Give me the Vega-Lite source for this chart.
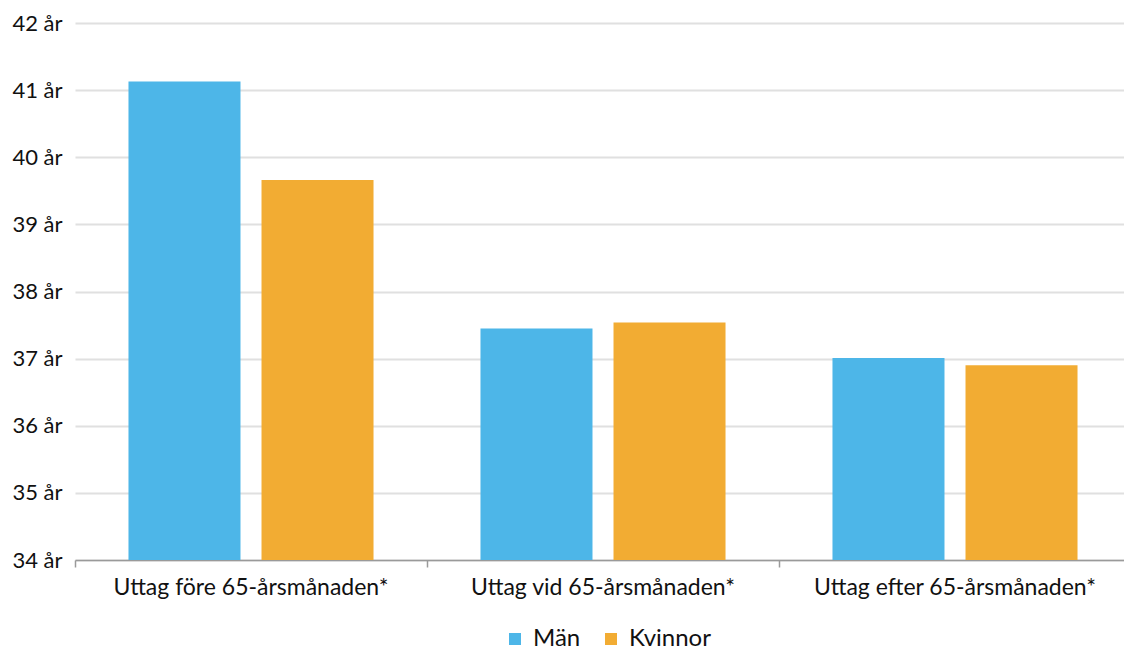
{
  "$schema": "https://vega.github.io/schema/vega-lite/v6.json",
  "width": 1049,
  "height": 537,
  "autosize": {"type": "none"},
  "padding": {"left": 75, "top": 23, "right": 0, "bottom": 90},
  "background": "white",
  "config": {
    "font": "Lato",
    "view": {"stroke": null},
    "axis": {"labelFont": "Lato", "labelColor": "#111111"},
    "legend": {"labelFont": "Lato"}
  },
  "data": {
    "values": [
      {"kategori": "Uttag före 65-årsmånaden*", "kon": "Män", "alder": 41.13},
      {"kategori": "Uttag före 65-årsmånaden*", "kon": "Kvinnor", "alder": 39.66},
      {"kategori": "Uttag vid 65-årsmånaden*", "kon": "Män", "alder": 37.45},
      {"kategori": "Uttag vid 65-årsmånaden*", "kon": "Kvinnor", "alder": 37.54},
      {"kategori": "Uttag efter 65-årsmånaden*", "kon": "Män", "alder": 37.01},
      {"kategori": "Uttag efter 65-årsmånaden*", "kon": "Kvinnor", "alder": 36.9}
    ]
  },
  "mark": {"type": "bar"},
  "encoding": {
    "x": {
      "field": "kategori",
      "type": "nominal",
      "sort": ["Uttag före 65-årsmånaden*", "Uttag vid 65-årsmånaden*", "Uttag efter 65-årsmånaden*"],
      "scale": {"range": [0, 1056], "paddingInner": 0, "paddingOuter": 0},
      "axis": {
        "title": null,
        "labelAngle": 0,
        "labelFontSize": 23,
        "labelLimit": 0,
        "labelPadding": 9,
        "bandPosition": 0,
        "tickSize": 7,
        "tickColor": "#9a9a9a",
        "domainColor": "#9a9a9a",
        "domainWidth": 1.5,
        "tickWidth": 1.5,
        "grid": false
      }
    },
    "xOffset": {
      "field": "kon",
      "type": "nominal",
      "sort": ["Män", "Kvinnor"],
      "scale": {"paddingInner": 0.158, "paddingOuter": 0.402}
    },
    "y": {
      "field": "alder",
      "type": "quantitative",
      "scale": {"domain": [34, 42], "zero": false, "nice": false},
      "axis": {
        "title": null,
        "values": [34, 35, 36, 37, 38, 39, 40, 41, 42],
        "labelExpr": "datum.value + ' år'",
        "labelFontSize": 22,
        "labelPadding": 13,
        "ticks": false,
        "domain": false,
        "gridColor": "#e0e0e0",
        "gridWidth": 2
      }
    },
    "y2": {"datum": 34},
    "color": {
      "field": "kon",
      "type": "nominal",
      "sort": ["Män", "Kvinnor"],
      "scale": {"domain": ["Män", "Kvinnor"], "range": ["#4DB6E8", "#F2AC33"]},
      "legend": {
        "title": null,
        "orient": "none",
        "direction": "horizontal",
        "legendX": 428,
        "legendY": 604,
        "symbolType": "square",
        "symbolSize": 144,
        "symbolStrokeWidth": 0,
        "symbolOpacity": 1,
        "labelFontSize": 24,
        "labelColor": "#111111",
        "labelOffset": 6,
        "columnPadding": 18
      }
    }
  }
}
